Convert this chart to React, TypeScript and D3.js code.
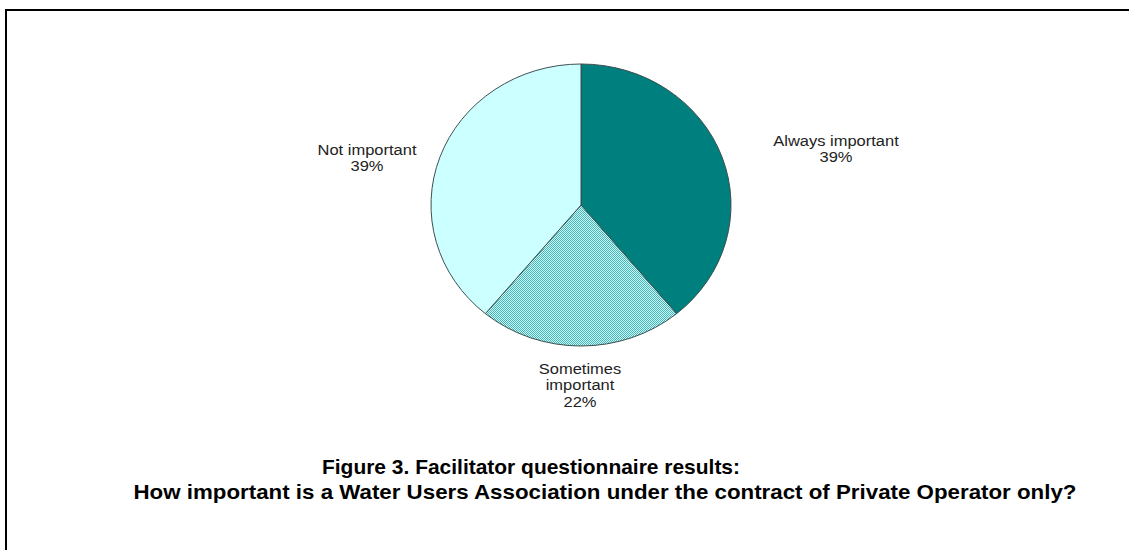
import React from "react";
import * as d3 from "d3";

const categories = ["Always important", "Sometimes important", "Not important"];
const values = [39, 22, 39];
const labelLines = [["Always important", "39%"], ["Sometimes", "important", "22%"], ["Not important", "39%"]];
const titleLines = [
  "Figure 3. Facilitator questionnaire results:",
  "How important is a Water Users Association under the contract of Private Operator only?",
];

export default function App() {
  const W = 1129, H = 550;
  const cx = 581, cy = 205, rx = 150, ry = 141;
  const sy = ry / rx;
  const pie = d3.pie<number>().sort(null).value((d) => d);
  const arcs = pie(values);
  const arc = d3.arc<d3.PieArcDatum<number>>().innerRadius(0).outerRadius(rx);
  const fills = ["#007f7f", "url(#check)", "#ccffff"];
  const labelPos = [
    { x: 836, y: 146 },
    { x: 580, y: 374 },
    { x: 367, y: 155 },
  ];
  const titlePos = [
    { x: 531, y: 474, w: 418 },
    { x: 605, y: 499, w: 943 },
  ];
  const sx = 1.064;
  return (
    <svg width={W} height={H} style={{ display: "block", position: "absolute", left: 0, top: 0 }}>
      <defs>
        <pattern id="check" width="2" height="2" patternUnits="userSpaceOnUse" patternTransform={`scale(1,${1 / sy})`}>
          <rect width="2" height="2" fill="#c8f8f8" />
          <rect width="1" height="1" fill="#4ab4b4" />
          <rect x="1" y="1" width="1" height="1" fill="#4ab4b4" />
        </pattern>
      </defs>
      <rect x={0} y={0} width={W} height={H} fill="#ffffff" />
      <path d={`M6,${H} L6,10 L${W},10`} fill="none" stroke="#000" strokeWidth={2} />
      <g transform={`translate(${cx},${cy}) scale(1,${sy})`}>
        {arcs.map((a, i) => (
          <path key={categories[i]} d={arc(a) || ""} fill={fills[i]} stroke="#3a4a4a" strokeWidth={1} />
        ))}
      </g>
      {labelLines.map((lines, i) => (
        <g key={i} transform={`translate(${labelPos[i].x},${labelPos[i].y}) scale(${sx},1)`}>
          <text x={0} y={0} textAnchor="middle"
            fontFamily="'Liberation Sans', Arial, sans-serif" fontSize={15.5} fill="#222">
            {lines.map((l, j) => (
              <tspan key={j} x={0} dy={j === 0 ? 0 : 16.5}>{l}</tspan>
            ))}
          </text>
        </g>
      ))}
      {titleLines.map((t, i) => (
        <text key={i} x={titlePos[i].x - titlePos[i].w / 2} y={titlePos[i].y}
          textLength={titlePos[i].w} lengthAdjust="spacingAndGlyphs"
          fontFamily="'Liberation Sans', Arial, sans-serif" fontSize={20.5} fontWeight="bold" fill="#000">
          {t}
        </text>
      ))}
    </svg>
  );
}
